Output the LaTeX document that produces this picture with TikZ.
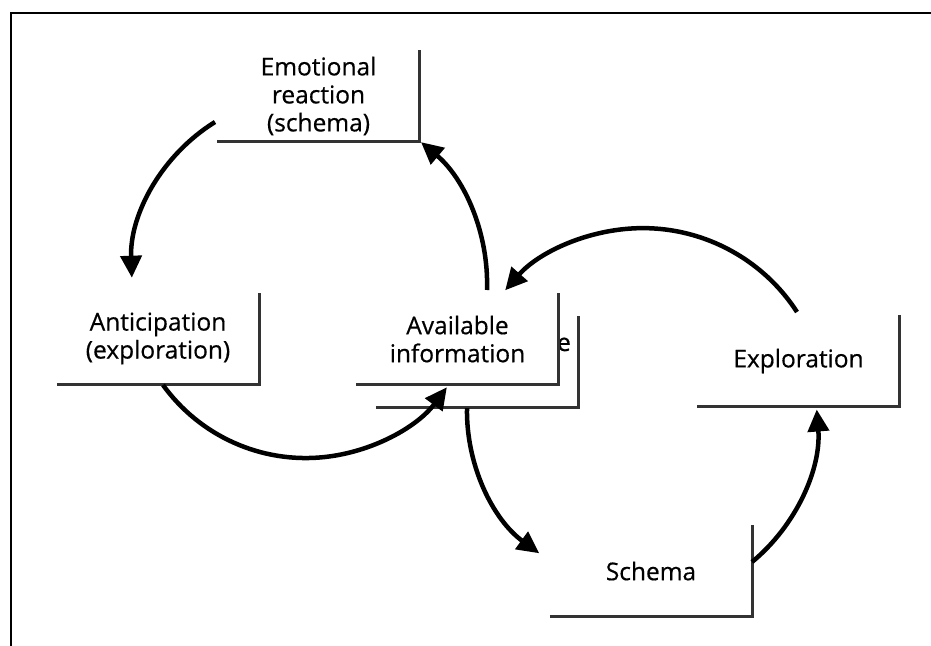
\documentclass[tikz,border=0pt]{standalone}
\usepackage{fontspec}
\newfontfamily\labelfamily{Open Sans}[FakeBold=0.5]
\usetikzlibrary{arrows.meta}
\begin{document}
\begin{tikzpicture}[x=1pt,y=1pt,
  label font/.style={font=\labelfamily\fontsize{24.5}{28}\selectfont},
  box/.style={label font,minimum width=202pt,minimum height=91pt,inner sep=0pt,
              fill=white,align=center},
  rim/.style={line width=3pt,draw=black!80,line join=miter},
  flow/.style={line width=4.5pt,-{Triangle[length=22pt,width=21pt]}},
]
\useasboundingbox (0,0) rectangle (931,-645);

% outer frame (top and left edges)
\draw[line width=2pt] (11,-646) -- (11,-13) -- (932,-13);

% boxes: white fill, shadow edge on the bottom and right
\node[box] (back) at (477,-362) {};
\node[label font,anchor=base east,inner sep=0pt] (backtext) at (571,-351) {e};
\draw[rim] (back.south west) -- (back.south east) -- (back.north east);

\node[box] (avail) at (457.5,-339) {Available\\information};
\draw[rim] (avail.south west) -- (avail.south east) -- (avail.north east);

\node[box] (emo) at (318.5,-96) {Emotional\\reaction\\(schema)};
\draw[rim] (emo.south west) -- (emo.south east) -- (emo.north east);

\node[box] (antic) at (158,-338.5) {Anticipation\\(exploration)};
\draw[rim] (antic.south west) -- (antic.south east) -- (antic.north east);

\node[box] (explo) at (798.5,-361) {Exploration};
\draw[rim] (explo.south west) -- (explo.south east) -- (explo.north east);

\node[box] (schema) at (651,-571) {Schema};
\draw[rim] (schema.south west) -- (schema.south east) -- (schema.north east);

% start points of the curved arrows, on the box edges
\coordinate (s1) at (215,-122);
\coordinate (s2) at (163,-385);
\coordinate (s3) at (487,-290);
\coordinate (s4) at (797,-312);
\coordinate (s5) at (467,-408);
\coordinate (s6) at (752,-562);

% left cycle
\draw[flow] (s1) arc[start angle=121.8,end angle=182,radius=176];
\draw[flow] (s2) arc[start angle=215.8,end angle=323.3,radius=176];
\draw[flow] (s3) arc[start angle=-1.9,end angle=50,radius=185];

% right cycle
\draw[flow] (s4) arc[start angle=32.9,end angle=138.6,radius=183.6];
\draw[flow] (s5) arc[start angle=179,end angle=233.9,radius=176];
\draw[flow] (s6) arc[start angle=-50.4,end angle=4.4,radius=180];
\end{tikzpicture}
\end{document}
